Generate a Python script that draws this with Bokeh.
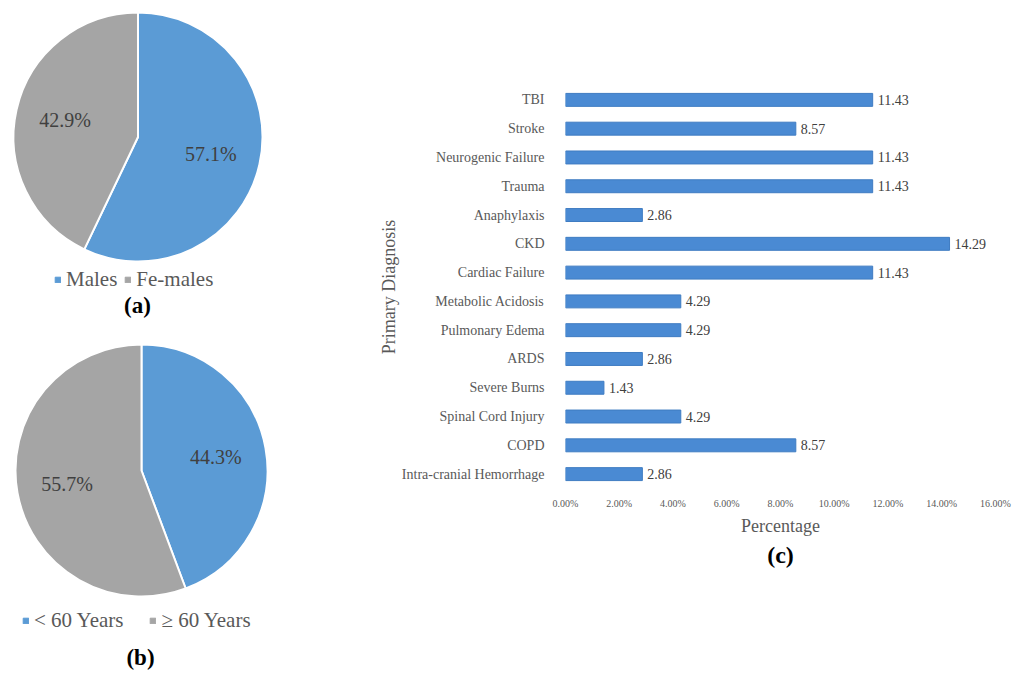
import numpy as np
from bokeh.plotting import figure
from bokeh.models import (ColumnDataSource, Range1d, Legend, LegendItem, Label, Title,
                          SingleIntervalTicker, PrintfTickFormatter, FactorRange)
from bokeh.layouts import row, column
from bokeh.embed import file_html
from bokeh.resources import INLINE
from bokeh.core.properties import value

# ---------------- data ----------------
sex_labels = ["Males", "Fe-males"]
sex_values = [57.1, 42.9]

age_labels = ["< 60 Years", "≥ 60 Years"]
age_values = [44.3, 55.7]

diagnoses = ["TBI", "Stroke", "Neurogenic Failure", "Trauma", "Anaphylaxis", "CKD",
             "Cardiac Failure", "Metabolic Acidosis", "Pulmonary Edema", "ARDS",
             "Severe Burns", "Spinal Cord Injury", "COPD", "Intra-cranial Hemorrhage"]
diag_values = [11.43, 8.57, 11.43, 11.43, 2.86, 14.29, 11.43, 4.29, 4.29, 2.86,
               1.43, 4.29, 8.57, 2.86]

x_max = 16
x_step = 2

# ---------------- styles ----------------
BLUE = "#5b9bd5"
GREY = "#a5a5a5"
BAR = "#4a8ad3"
SERIF = "Liberation Serif"
TXT = "#404040"
LEG = "#595959"


def pie(labels, vals, width, height, cx, cy, r, leg_left, leg_bottom, leg_spacing,
        tag, tag_x, tag_y):
    p = figure(width=width, height=height, output_backend="svg", toolbar_location=None,
               x_range=Range1d(-cx, width - cx), y_range=Range1d(-(height - cy), cy),
               min_border=0, min_border_left=0, min_border_right=0,
               min_border_top=0, min_border_bottom=0)
    p.axis.visible = False
    p.grid.visible = False
    p.outline_line_color = None
    v = np.array(vals, dtype=float)
    frac = v / v.sum()
    cum_end = np.cumsum(frac)
    cum_start = cum_end - frac
    start = np.pi / 2 - cum_end * 2 * np.pi
    end = np.pi / 2 - cum_start * 2 * np.pi
    mid = (start + end) / 2
    colors = [BLUE, GREY]
    src = ColumnDataSource(dict(lx=0.6 * r * np.cos(mid), ly=0.6 * r * np.sin(mid),
                                txt=["{:.1f}%".format(x) for x in vals]))
    items = []
    for i in range(len(labels)):
        p.wedge(x=0, y=0, radius=r, start_angle=start[i], end_angle=end[i],
                fill_color=colors[i], line_color="white", line_width=2)
        # legend swatch without the white outline
        sw = p.wedge(x=0, y=0, radius=0, start_angle=0, end_angle=0,
                     fill_color=colors[i], line_color=colors[i], line_width=1)
        items.append(LegendItem(label=labels[i], renderers=[sw]))
    p.text(x="lx", y="ly", text="txt", source=src, text_align="center",
           text_baseline="middle", text_font=value(SERIF), text_font_size="20px",
           text_color=TXT)
    leg = Legend(items=items, orientation="horizontal", location=(leg_left, leg_bottom),
                 glyph_width=7, glyph_height=7, label_standoff=5, spacing=leg_spacing,
                 padding=0, margin=0, border_line_color=None, background_fill_alpha=0,
                 label_text_font=SERIF, label_text_font_size="21px",
                 label_text_color=LEG, label_height=20)
    p.add_layout(leg, "center")
    p.add_layout(Label(x=tag_x, y=tag_y, x_units="screen", y_units="screen", text=tag,
                       text_align="center", text_baseline="middle",
                       text_font=SERIF, text_font_size="23px", text_font_style="bold",
                       text_color="black"))
    return p


pa = pie(sex_labels, sex_values, 308, 328, 137.5, 136.5, 124.5, 54, 36, 7,
         "(a)", 137, 23)
pb = pie(age_labels, age_values, 308, 343, 141, 142, 126, 22, 38, 26,
         "(b)", 140, 14)

# ---------------- bar chart ----------------
src = ColumnDataSource(dict(cat=diagnoses, val=diag_values,
                            txt=["{:.2f}".format(x) for x in diag_values]))
pc = figure(y_range=FactorRange(factors=diagnoses[::-1]), x_range=Range1d(0, x_max),
            frame_width=430, frame_height=403, min_border_left=257,
            min_border_right=18, min_border_top=85, min_border_bottom=183,
            output_backend="svg", toolbar_location=None)
pc.hbar(y="cat", right="val", left=0, height=0.45, source=src,
        fill_color=BAR, line_color="#3f7cc2", line_width=1)
pc.text(x="val", y="cat", text="txt", source=src, x_offset=5, text_baseline="middle",
        text_font=value(SERIF), text_font_size="14px", text_color=TXT)
pc.grid.visible = False
pc.outline_line_color = None
pc.xaxis.ticker = SingleIntervalTicker(interval=x_step)
pc.xaxis.formatter = PrintfTickFormatter(format="%.2f%%")
for ax in (pc.xaxis[0], pc.yaxis[0]):
    ax.axis_line_color = None
    ax.major_tick_line_color = None
    ax.minor_tick_line_color = None
    ax.major_label_text_font = SERIF
    ax.major_label_text_color = LEG
    ax.axis_label_text_font = SERIF
    ax.axis_label_text_font_style = "normal"
    ax.axis_label_text_color = LEG
    ax.axis_label_text_font_size = "18px"
pc.xaxis.major_label_text_font_size = "10px"
pc.xaxis.major_label_standoff = 3
pc.xaxis.axis_label = "Percentage"
pc.xaxis.axis_label_standoff = 4
pc.yaxis.major_label_text_font_size = "14px"
pc.yaxis.major_label_standoff = 15
pc.yaxis.axis_label = "Primary Diagnosis"
pc.yaxis.axis_label_standoff = 0
pc.add_layout(Title(text="(c)", align="center", text_font=SERIF, text_font_size="24px",
                    text_font_style="bold", text_color="black", standoff=2), "below")

layout = row(column(pa, pb), pc)
open("out.html", "w").write(file_html(layout, INLINE))
